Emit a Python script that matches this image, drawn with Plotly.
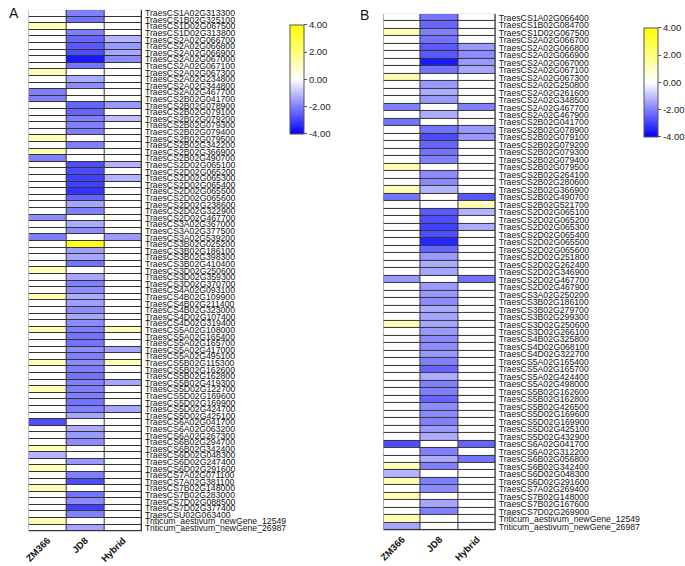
import plotly.graph_objects as go

samples = ["ZM366", "JD8", "Hybrid"]

genes_a = ["TraesCS1A02G313300","TraesCS1B02G325100","TraesCS1D02G067500","TraesCS1D02G313800",
"TraesCS2A02G066700","TraesCS2A02G066800","TraesCS2A02G066900","TraesCS2A02G067000","TraesCS2A02G067100",
"TraesCS2A02G067300","TraesCS2A02G234800","TraesCS2A02G344800","TraesCS2A02G467700","TraesCS2B02G041700",
"TraesCS2B02G078900","TraesCS2B02G079100","TraesCS2B02G079200","TraesCS2B02G079300","TraesCS2B02G079400",
"TraesCS2B02G079500","TraesCS2B02G342200","TraesCS2B02G366900","TraesCS2B02G490700","TraesCS2D02G065100",
"TraesCS2D02G065200","TraesCS2D02G065300","TraesCS2D02G065400","TraesCS2D02G065500","TraesCS2D02G065600",
"TraesCS2D02G238600","TraesCS2D02G322900","TraesCS2D02G467700","TraesCS3A02G367000","TraesCS3A02G377500",
"TraesCS3A02G539200","TraesCS3B02G025200","TraesCS3B02G186100","TraesCS3B02G398300","TraesCS3B02G410400",
"TraesCS3D02G250600","TraesCS3D02G359300","TraesCS3D02G370700","TraesCS4A02G093100","TraesCS4B02G109900",
"TraesCS4B02G211400","TraesCS4B02G323000","TraesCS4D02G107400","TraesCS4D02G319400","TraesCS5A02G108000",
"TraesCS5A02G165400","TraesCS5A02G165700","TraesCS5A02G417000","TraesCS5A02G495100","TraesCS5B02G115300",
"TraesCS5B02G162600","TraesCS5B02G162800","TraesCS5B02G419300","TraesCS5D02G122700","TraesCS5D02G169600",
"TraesCS5D02G169900","TraesCS5D02G424700","TraesCS5D02G425100","TraesCS6A02G041700","TraesCS6A02G063200",
"TraesCS6A02G267300","TraesCS6B02G294700","TraesCS6B02G342400","TraesCS6D02G048300","TraesCS6D02G247400",
"TraesCS6D02G291600","TraesCS7A02G071100","TraesCS7A02G381100","TraesCS7B02G148000","TraesCS7B02G283000",
"TraesCS7D02G088500","TraesCS7D02G377400","TraesCSU02G063400","Triticum_aestivum_newGene_12549",
"Triticum_aestivum_newGene_26987"]

a_zm366 = [0,0,1.2,0,0,0,0,0,0,1.2,0,0,-2.0,-2.0,0,0,0,0,0,1.2,0,1.2,-2.0,0,0,0,0,0,0,0,0,-1.8,0,0,-2.0,0,0,0,0,
           1.2,0,0,0,1.2,0,0,0,0,1.2,0,0,0,0,1.2,0,0,0,1.2,0,0,0,0,-2.8,0,0,0,1.2,-1.2,0,1.2,0,0,1.2,0,0,0,0,1.2,0]
a_jd8 = [-2.0,-2.2,0,-2.0,-2.4,-2.6,-2.8,-3.6,-2.2,0,-1.3,-1.8,0,0,-2.4,-2.4,-2.0,-2.0,-2.0,0,-2.0,0,0,-2.8,-2.8,
         -3.0,-3.0,-3.2,-2.4,-1.4,-2.0,0,-1.3,-1.8,0,3.6,-1.5,-1.4,-2.2,0,-1.4,-2.0,-1.8,-1.3,-1.5,-1.8,-1.4,-1.8,
         -2.0,-2.2,-2.2,-1.8,-2.0,-1.8,-2.0,-2.2,-2.0,-2.0,-2.0,-2.2,-2.0,-1.4,0,-1.3,-1.6,-1.8,0,0,-1.6,0,-2.0,
         -2.8,0,-2.2,-1.8,-3.0,-2.0,0,-1.4]
a_hybrid = [0,0,0,0,-1.2,-1.6,-1.4,-1.8,0,0,0,0,0,0,-1.6,0,-1.0,0,0,0,0,0,0,-1.2,0,-1.2,0,0,0,0,0,0,0,0,-1.6,0,0,
            0,0,0,0,0,0,0,0,0,0,0,1.2,0,0,-1.4,0,1.2,0,0,-1.4,0,0,0,-1.4,0,0,0,0,0,0,0,0,0,0,0,0,0,0,0,0,0,0]

genes_b = ["TraesCS1A02G066400","TraesCS1B02G084700","TraesCS1D02G067500","TraesCS2A02G066700","TraesCS2A02G066800",
"TraesCS2A02G066900","TraesCS2A02G067000","TraesCS2A02G067100","TraesCS2A02G067300","TraesCS2A02G250800",
"TraesCS2A02G261600","TraesCS2A02G348500","TraesCS2A02G467700","TraesCS2A02G467900","TraesCS2B02G041700",
"TraesCS2B02G078900","TraesCS2B02G079100","TraesCS2B02G079200","TraesCS2B02G079300","TraesCS2B02G079400",
"TraesCS2B02G079500","TraesCS2B02G264100","TraesCS2B02G280600","TraesCS2B02G366900","TraesCS2B02G490700",
"TraesCS2B02G521700","TraesCS2D02G065100","TraesCS2D02G065200","TraesCS2D02G065300","TraesCS2D02G065400",
"TraesCS2D02G065500","TraesCS2D02G065600","TraesCS2D02G251800","TraesCS2D02G262400","TraesCS2D02G346900",
"TraesCS2D02G467700","TraesCS2D02G467900","TraesCS3A02G250200","TraesCS3B02G186100","TraesCS3B02G279700",
"TraesCS3B02G299300","TraesCS3D02G250600","TraesCS3D02G266100","TraesCS4B02G325800","TraesCS4D02G068100",
"TraesCS4D02G322700","TraesCS5A02G165400","TraesCS5A02G165700","TraesCS5A02G424400","TraesCS5A02G498000",
"TraesCS5B02G162600","TraesCS5B02G162800","TraesCS5B02G426500","TraesCS5D02G169600","TraesCS5D02G169900",
"TraesCS5D02G425100","TraesCS5D02G432900","TraesCS6A02G041700","TraesCS6A02G312200","TraesCS6B02G056800",
"TraesCS6B02G342400","TraesCS6D02G048300","TraesCS6D02G291600","TraesCS7A02G269400","TraesCS7B02G148000",
"TraesCS7B02G167600","TraesCS7D02G269900","Triticum_aestivum_newGene_12549","Triticum_aestivum_newGene_26987"]

b_zm366 = [0,0,1.2,0,0,0,0,0,1.2,0,0,0,-2.0,0,-2.2,0,0,0,0,0,1.2,0,0,1.2,-2.2,0,0,0,0,0,0,0,0,0,0,-1.6,0,0,0,0,
           0,1.2,0,0,0,0,0,0,0,0,0,0,0,0,0,0,0,-2.8,0,0,1.2,-1.2,1.2,0,1.2,0,0,1.2,-1.4]
b_jd8 = [-2.2,-2.4,-2.0,-2.2,-2.6,-2.6,-3.6,-2.2,0,-1.6,-1.3,-1.6,0,-1.3,0,-2.2,-2.8,-2.4,-2.2,-2.0,0,-1.8,-1.8,
         -1.2,0,0,-2.6,-2.8,-3.0,-2.8,-3.4,-2.4,-1.6,-1.3,-1.4,0,-1.6,-1.6,-1.8,-1.3,-1.4,-1.4,-1.6,-1.8,-1.8,
         -1.6,-2.0,-2.4,-1.3,-2.0,-2.0,-2.4,-1.8,-1.8,-2.0,-1.6,-1.3,0,-2.0,-1.3,-2.0,0,-2.0,-1.8,0,-1.4,-2.0,0,0]
b_hybrid = [0,0,0,0,-1.6,-1.8,-1.6,-1.4,0,0,0,0,-2.0,0,0,-1.6,-1.6,0,0,0,0,0,0,0,-2.6,1.2,-1.2,0,-1.3,0,0,0,0,0,0,
            -2.2,0,0,0,0,0,0,0,0,0,0,0,0,0,0,0,0,0,0,0,0,0,-2.4,0,-2.2,0,0,0,0,0,0,0,0,0]

cb_vals = [-4, -2, 0, 2, 4]
cb_text = ["-4.00", "-2.00", "0.00", "2.00", "4.00"]

W, H = 685, 566
FONT = "Liberation Sans, Arial, sans-serif"
cscale = [[0, "rgb(0,0,255)"], [0.5, "rgb(255,255,255)"], [1, "rgb(255,255,0)"]]


def rows(*cols):
    return [list(r) for r in zip(*cols)]


def cbar(xpx, ypx):
    return dict(x=xpx / W, xanchor="left", y=1 - ypx / H, yanchor="top",
                thickness=14, thicknessmode="pixels", len=109, lenmode="pixels",
                xpad=0, ypad=0, outlinewidth=1, outlinecolor="#555",
                tickvals=cb_vals, ticktext=cb_text, ticks="outside", ticklen=3,
                tickcolor="#555", tickfont=dict(size=9.5, family=FONT, color="#222"))


fig = go.Figure()
fig.add_trace(go.Heatmap(z=rows(a_zm366, a_jd8, a_hybrid), x=samples, y=genes_a,
                         colorscale=cscale, zmin=-4, zmax=4, xgap=1, ygap=1,
                         colorbar=cbar(289, 23), xaxis="x", yaxis="y"))
fig.add_trace(go.Heatmap(z=rows(b_zm366, b_jd8, b_hybrid), x=samples, y=genes_b,
                         colorscale=cscale, zmin=-4, zmax=4, xgap=1, ygap=1,
                         colorbar=cbar(648, 26), xaxis="x2", yaxis="y2"))

xcommon = dict(tickangle=-45, showgrid=False, zeroline=False, ticks="", showline=False,
               ticklabelstandoff=1,
               tickfont=dict(size=9.5, family=FONT, color="#111", weight="bold"))


def yaxis_for(genes, dom):
    return dict(domain=dom, autorange="reversed", side="right", showgrid=False, zeroline=False,
                ticks="", showline=False, type="category", ticklabelstandoff=2,
                tickmode="array", tickvals=genes, ticktext=genes,
                tickfont=dict(size=8.7, family=FONT, color="#111"))


fig.update_layout(
    width=W, height=H, margin=dict(l=0, r=0, t=0, b=0),
    paper_bgcolor="white", plot_bgcolor="#333",
    font=dict(family=FONT),
    xaxis=dict(domain=[24 / W, 139 / W], anchor="y", **xcommon),
    yaxis=dict(anchor="x", **yaxis_for(genes_a, [1 - 533 / H, 1 - 8 / H])),
    xaxis2=dict(domain=[384 / W, 498 / W], anchor="y2", **xcommon),
    yaxis2=dict(anchor="x2", **yaxis_for(genes_b, [1 - 532 / H, 1 - 12 / H])),
    annotations=[
        dict(text="A", x=2 / W, y=1 - 1 / H, xref="paper", yref="paper", xanchor="left",
             yanchor="top", showarrow=False, font=dict(size=14, family=FONT, color="#111")),
        dict(text="B", x=358 / W, y=1 - 3 / H, xref="paper", yref="paper", xanchor="left",
             yanchor="top", showarrow=False, font=dict(size=14, family=FONT, color="#111")),
    ],
)

fig.write_html("out.html", config={"displayModeBar": False},
               post_script="document.body.style.margin='0px';")
